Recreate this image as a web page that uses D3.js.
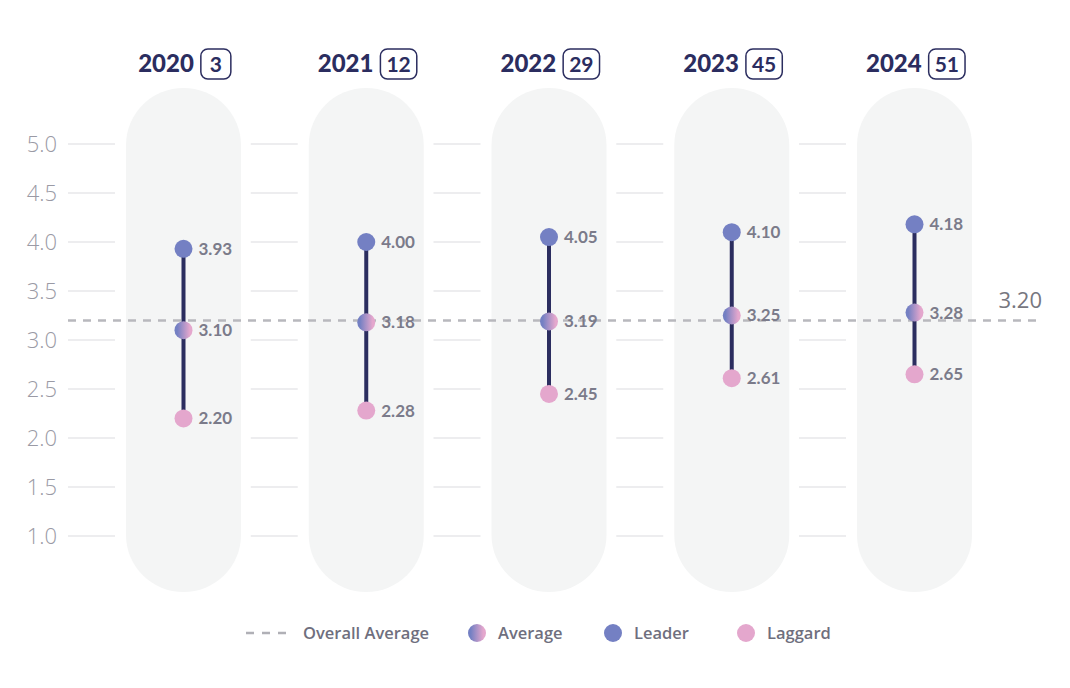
<!DOCTYPE html>
<html><head><meta charset="utf-8">
<script src="https://cdn.jsdelivr.net/npm/d3@7"></script>
<style>body{margin:0;background:#fff;font-family:Lato,"Open Sans",sans-serif}</style>
</head><body>
<svg id="c" width="1070" height="688"></svg>
<script>
const years = ["2020","2021","2022","2023","2024"];
const counts = [3,12,29,45,51];
const leader = [3.93,4.00,4.05,4.10,4.18];
const average = [3.10,3.18,3.19,3.25,3.28];
const laggard = [2.20,2.28,2.45,2.61,2.65];
const overallAverage = 3.20;
const yTicks = [1.0,1.5,2.0,2.5,3.0,3.5,4.0,4.5,5.0];
const legendItems = ["Overall Average","Average","Leader","Laggard"];

const svg = d3.select("#c");
const navy = "#2b2d5f", leadC = "#7480c3", lagC = "#e4a7cd", grid = "#dcdcdf";
const x = d3.scalePoint().domain(years).range([183.5, 914.5]);
const y = d3.scaleLinear().domain([1,5]).range([536,144]);
const pillW = 115;

const defs = svg.append("defs");
const g = defs.append("linearGradient").attr("id","avgGrad").attr("x1","0%").attr("x2","100%").attr("y1","0%").attr("y2","0%");
g.append("stop").attr("offset","15%").attr("stop-color",leadC);
g.append("stop").attr("offset","85%").attr("stop-color",lagC);

// pills
svg.selectAll("rect.pill").data(years).join("rect")
  .attr("x", d=>x(d)-pillW/2).attr("y",88).attr("width",pillW).attr("height",504)
  .attr("rx",pillW/2).attr("ry",57).attr("fill","#f4f5f5");

// grid segments
years.forEach(yr=>{
  const x1 = x(yr)-pillW/2-58, x2 = x(yr)-pillW/2-11;
  svg.append("g").selectAll("line").data(yTicks).join("line")
    .attr("x1",x1).attr("x2",x2).attr("y1",d=>y(d)).attr("y2",d=>y(d))
    .attr("stroke",grid).attr("stroke-width",1.2);
});

// y labels
svg.append("g").selectAll("text").data(yTicks).join("text")
  .attr("x",57).attr("y",d=>y(d)).attr("dy","0.35em").attr("text-anchor","end")
  .attr("font-family","'Open Sans',sans-serif")
  .attr("font-size",22).attr("font-weight",300).attr("fill","#9a9aa5")
  .text(d=>d3.format(".1f")(d));

// overall average line
svg.append("line").attr("x1",68).attr("x2",1043).attr("y1",y(overallAverage)).attr("y2",y(overallAverage))
  .attr("stroke","#b8b8bd").attr("stroke-width",2.5).attr("stroke-dasharray","8,7");
svg.append("text").attr("x",1042).attr("y",y(overallAverage)-12).attr("text-anchor","end")
  .attr("font-family","'Open Sans',sans-serif")
  .attr("font-size",22).attr("font-weight",400).attr("fill","#77777f").text(d3.format(".2f")(overallAverage));

// range lines
svg.selectAll("line.rng").data(years).join("line")
  .attr("x1",d=>x(d)).attr("x2",d=>x(d))
  .attr("y1",(d,i)=>y(leader[i])).attr("y2",(d,i)=>y(laggard[i]))
  .attr("stroke",navy).attr("stroke-width",4);

function dots(vals, fill){
  svg.append("g").selectAll("circle").data(years).join("circle")
    .attr("cx",d=>x(d)).attr("cy",(d,i)=>y(vals[i])).attr("r",9).attr("fill",fill);
  svg.append("g").selectAll("text").data(years).join("text")
    .attr("x",d=>x(d)+15).attr("y",(d,i)=>y(vals[i])).attr("dy","0.35em")
    .attr("font-size",17).attr("font-weight",700).attr("fill","#7b7b8a")
    .text((d,i)=>d3.format(".2f")(vals[i]));
}
dots(leader, leadC);
dots(average, "url(#avgGrad)");
dots(laggard, lagC);

// headers
years.forEach((yr,i)=>{
  const hg = svg.append("g");
  const t = hg.append("text").attr("x",0).attr("y",72).attr("font-size",24).attr("font-weight",900)
    .attr("fill",navy).text(yr);
  const tw = t.node().getComputedTextLength();
  const c = hg.append("text").attr("y",72).attr("font-size",21).attr("font-weight",700)
    .attr("fill",navy).attr("text-anchor","middle").text(counts[i]);
  const cw = c.node().getComputedTextLength();
  const bw = Math.max(30, cw+12);
  const bx = tw+7;
  hg.append("rect").attr("x",bx).attr("y",49).attr("width",bw).attr("height",30).attr("rx",7)
    .attr("fill","none").attr("stroke",navy).attr("stroke-width",1.5);
  c.attr("x",bx+bw/2);
  const total = bx+bw;
  hg.attr("transform",`translate(${x(yr)-total/2+1},0)`);
});

// legend
const ly = 633;
const lg = svg.append("g").attr("font-family","'Open Sans',sans-serif").attr("font-size",16.5).attr("font-weight",600).attr("fill","#6f6f7e");
lg.append("line").attr("x1",246).attr("x2",290).attr("y1",ly).attr("y2",ly)
  .attr("stroke","#b0b0b6").attr("stroke-width",2.5).attr("stroke-dasharray","8,8");
lg.append("text").attr("x",303).attr("y",ly).attr("dy","0.35em").text(legendItems[0]);
const lx = [[477,"url(#avgGrad)",498],[613,leadC,634],[746,lagC,767]];
lx.forEach((p,i)=>{
  lg.append("circle").attr("cx",p[0]).attr("cy",ly).attr("r",9).attr("fill",p[1]);
  lg.append("text").attr("x",p[2]).attr("y",ly).attr("dy","0.35em").text(legendItems[i+1]);
});
</script>
</body></html>
